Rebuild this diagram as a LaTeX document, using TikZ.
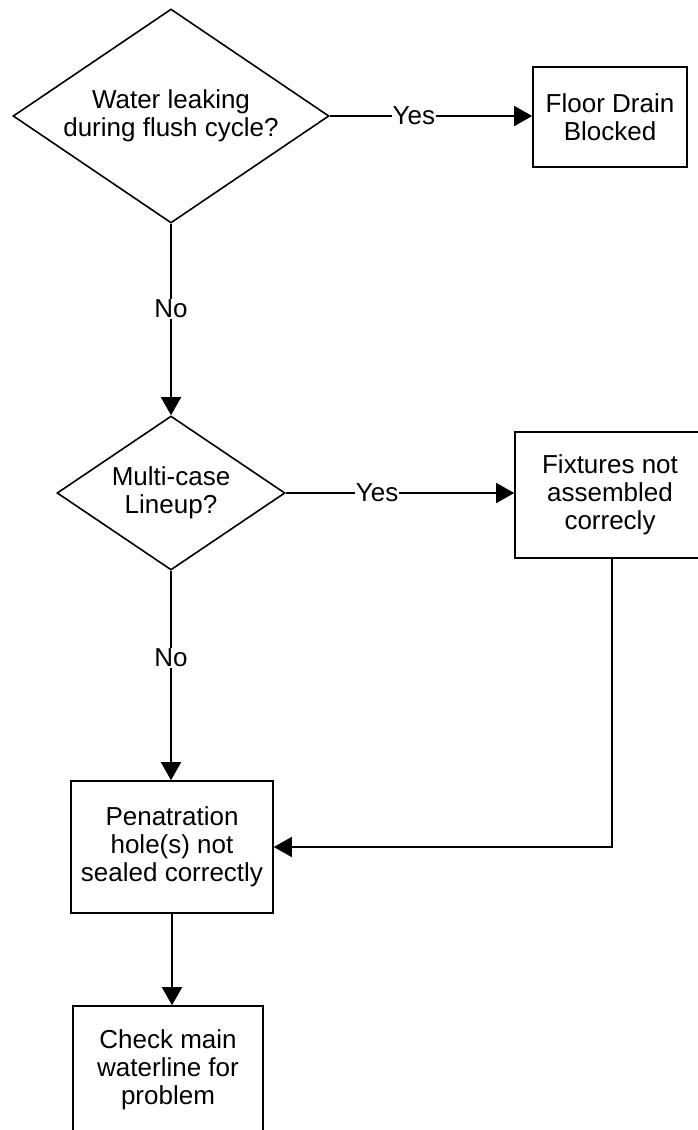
\documentclass[tikz,border=0pt]{standalone}
\usepackage{fontspec}
\setmainfont{Liberation Sans}
\usetikzlibrary{shapes.geometric,arrows.meta}
\begin{document}
\begin{tikzpicture}[x=1pt,y=1pt,
  every node/.style={font=\fontsize{26}{28}\selectfont},
  line/.style={line width=1.6pt},
  arr/.style={line, -{Triangle[length=18pt,width=20pt]}},
  decision/.style={draw, line width=1.6pt, shape=diamond, aspect=1.48, inner sep=0pt, align=center},
  procbox/.style={draw, line width=1.6pt, rectangle, inner sep=0pt, align=center},
  lbl/.style={fill=white, inner sep=1pt}]
\useasboundingbox (0,0) rectangle (698,-1130);
\node[decision, minimum width=316pt, minimum height=214pt] (d1) at (171,-116) {Water leaking\\during flush cycle?};
\node[procbox, minimum width=154pt, minimum height=100pt] (fdb) at (610,-117) {Floor Drain\\Blocked};
\node[decision, minimum width=228pt, minimum height=154pt] (d2) at (171,-493) {Multi-case\\Lineup?};
\node[procbox, minimum width=190pt, minimum height=126pt] (fix) at (610,-495) {Fixtures not\\assembled\\correcly};
\node[procbox, minimum width=202pt, minimum height=132pt] (pen) at (172,-847) {Penatration\\hole(s) not\\sealed correctly};
\node[procbox, minimum width=190pt, minimum height=128pt] (chk) at (168,-1070) {Check main\\waterline for\\problem};
\draw[arr] (d1.east) -- node[lbl, pos=0.415] (y1) {Yes} (d1.east -| fdb.west);
\draw[arr] (d1.south) -- node[lbl, pos=0.446] (n1) {No} (d2.north);
\draw[arr] (d2.east) -- node[lbl, pos=0.4] (y2) {Yes} (d2.east -| fix.west);
\draw[arr] (d2.south) -- node[lbl, pos=0.417] (n2) {No} (d2.south |- pen.north);
\coordinate (fb) at ([xshift=2pt]fix.south);
\draw[arr] (fb) |- (pen.east);
\draw[arr] (pen.south) -- (pen.south |- chk.north);
\end{tikzpicture}
\end{document}
